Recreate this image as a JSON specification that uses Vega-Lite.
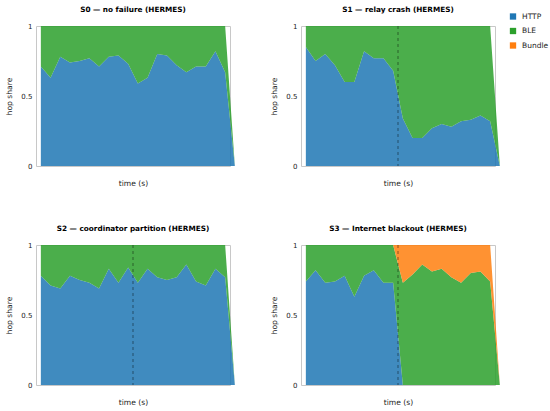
{
  "$schema": "https://vega.github.io/schema/vega-lite/v6.json",
  "background": "white",
  "padding": {"left": 5, "top": 5, "right": 0, "bottom": 5},
  "bounds": "flush",
  "columns": 2,
  "spacing": {"row": 79, "column": 71},
  "config": {
    "font": "DejaVu Sans",
    "view": {"stroke": "#c8c8c8"},
    "axis": {
      "grid": false, "ticks": false, "domain": false,
      "labelFontSize": 7, "titleFontSize": 7.6, "titleFontWeight": "normal",
      "labelColor": "#222", "titleColor": "#222"
    },
    "axisX": {"labels": false, "titlePadding": 13},
    "axisY": {"titlePadding": 7, "labelPadding": 4},
    "title": {"fontSize": 7.3, "fontWeight": "bold", "offset": 9, "color": "#000"},
    "legend": {
      "labelFontSize": 7.5, "labelColor": "#222",
      "symbolType": "square", "symbolSize": 40, "rowPadding": 6.5, "labelOffset": 5
    },
    "area": {"opacity": 0.85},
    "rule": {"color": "#000", "opacity": 0.45, "strokeDash": [3, 3], "strokeWidth": 1}
  },
  "datasets": {
    "shares": [
      {"s": "S0", "t": 1.5, "HTTP": 0.71, "BLE": 0.29, "Bundle": 0},
      {"s": "S0", "t": 4.5, "HTTP": 0.63, "BLE": 0.37, "Bundle": 0},
      {"s": "S0", "t": 7.5, "HTTP": 0.78, "BLE": 0.22, "Bundle": 0},
      {"s": "S0", "t": 10.5, "HTTP": 0.74, "BLE": 0.26, "Bundle": 0},
      {"s": "S0", "t": 13.5, "HTTP": 0.75, "BLE": 0.25, "Bundle": 0},
      {"s": "S0", "t": 16.5, "HTTP": 0.77, "BLE": 0.23, "Bundle": 0},
      {"s": "S0", "t": 19.5, "HTTP": 0.71, "BLE": 0.29, "Bundle": 0},
      {"s": "S0", "t": 22.5, "HTTP": 0.78, "BLE": 0.22, "Bundle": 0},
      {"s": "S0", "t": 25.5, "HTTP": 0.79, "BLE": 0.21, "Bundle": 0},
      {"s": "S0", "t": 28.5, "HTTP": 0.73, "BLE": 0.27, "Bundle": 0},
      {"s": "S0", "t": 31.5, "HTTP": 0.59, "BLE": 0.41, "Bundle": 0},
      {"s": "S0", "t": 34.5, "HTTP": 0.63, "BLE": 0.37, "Bundle": 0},
      {"s": "S0", "t": 37.5, "HTTP": 0.80, "BLE": 0.20, "Bundle": 0},
      {"s": "S0", "t": 40.5, "HTTP": 0.79, "BLE": 0.21, "Bundle": 0},
      {"s": "S0", "t": 43.5, "HTTP": 0.72, "BLE": 0.28, "Bundle": 0},
      {"s": "S0", "t": 46.5, "HTTP": 0.67, "BLE": 0.33, "Bundle": 0},
      {"s": "S0", "t": 49.5, "HTTP": 0.71, "BLE": 0.29, "Bundle": 0},
      {"s": "S0", "t": 52.5, "HTTP": 0.71, "BLE": 0.29, "Bundle": 0},
      {"s": "S0", "t": 55.5, "HTTP": 0.82, "BLE": 0.18, "Bundle": 0},
      {"s": "S0", "t": 58.5, "HTTP": 0.67, "BLE": 0.33, "Bundle": 0},
      {"s": "S0", "t": 61.5, "HTTP": 0, "BLE": 0, "Bundle": 0},
      {"s": "S1", "t": 1.5, "HTTP": 0.85, "BLE": 0.15, "Bundle": 0},
      {"s": "S1", "t": 4.5, "HTTP": 0.75, "BLE": 0.25, "Bundle": 0},
      {"s": "S1", "t": 7.5, "HTTP": 0.80, "BLE": 0.20, "Bundle": 0},
      {"s": "S1", "t": 10.5, "HTTP": 0.72, "BLE": 0.28, "Bundle": 0},
      {"s": "S1", "t": 13.5, "HTTP": 0.60, "BLE": 0.40, "Bundle": 0},
      {"s": "S1", "t": 16.5, "HTTP": 0.60, "BLE": 0.40, "Bundle": 0},
      {"s": "S1", "t": 19.5, "HTTP": 0.82, "BLE": 0.18, "Bundle": 0},
      {"s": "S1", "t": 22.5, "HTTP": 0.77, "BLE": 0.23, "Bundle": 0},
      {"s": "S1", "t": 25.5, "HTTP": 0.77, "BLE": 0.23, "Bundle": 0},
      {"s": "S1", "t": 28.5, "HTTP": 0.68, "BLE": 0.32, "Bundle": 0},
      {"s": "S1", "t": 31.5, "HTTP": 0.34, "BLE": 0.66, "Bundle": 0},
      {"s": "S1", "t": 34.5, "HTTP": 0.20, "BLE": 0.80, "Bundle": 0},
      {"s": "S1", "t": 37.5, "HTTP": 0.20, "BLE": 0.80, "Bundle": 0},
      {"s": "S1", "t": 40.5, "HTTP": 0.27, "BLE": 0.73, "Bundle": 0},
      {"s": "S1", "t": 43.5, "HTTP": 0.30, "BLE": 0.70, "Bundle": 0},
      {"s": "S1", "t": 46.5, "HTTP": 0.28, "BLE": 0.72, "Bundle": 0},
      {"s": "S1", "t": 49.5, "HTTP": 0.32, "BLE": 0.68, "Bundle": 0},
      {"s": "S1", "t": 52.5, "HTTP": 0.33, "BLE": 0.67, "Bundle": 0},
      {"s": "S1", "t": 55.5, "HTTP": 0.36, "BLE": 0.64, "Bundle": 0},
      {"s": "S1", "t": 58.5, "HTTP": 0.32, "BLE": 0.68, "Bundle": 0},
      {"s": "S1", "t": 61.5, "HTTP": 0, "BLE": 0, "Bundle": 0},
      {"s": "S2", "t": 1.5, "HTTP": 0.78, "BLE": 0.22, "Bundle": 0},
      {"s": "S2", "t": 4.5, "HTTP": 0.71, "BLE": 0.29, "Bundle": 0},
      {"s": "S2", "t": 7.5, "HTTP": 0.69, "BLE": 0.31, "Bundle": 0},
      {"s": "S2", "t": 10.5, "HTTP": 0.78, "BLE": 0.22, "Bundle": 0},
      {"s": "S2", "t": 13.5, "HTTP": 0.75, "BLE": 0.25, "Bundle": 0},
      {"s": "S2", "t": 16.5, "HTTP": 0.73, "BLE": 0.27, "Bundle": 0},
      {"s": "S2", "t": 19.5, "HTTP": 0.69, "BLE": 0.31, "Bundle": 0},
      {"s": "S2", "t": 22.5, "HTTP": 0.83, "BLE": 0.17, "Bundle": 0},
      {"s": "S2", "t": 25.5, "HTTP": 0.73, "BLE": 0.27, "Bundle": 0},
      {"s": "S2", "t": 28.5, "HTTP": 0.84, "BLE": 0.16, "Bundle": 0},
      {"s": "S2", "t": 31.5, "HTTP": 0.73, "BLE": 0.27, "Bundle": 0},
      {"s": "S2", "t": 34.5, "HTTP": 0.83, "BLE": 0.17, "Bundle": 0},
      {"s": "S2", "t": 37.5, "HTTP": 0.77, "BLE": 0.23, "Bundle": 0},
      {"s": "S2", "t": 40.5, "HTTP": 0.75, "BLE": 0.25, "Bundle": 0},
      {"s": "S2", "t": 43.5, "HTTP": 0.77, "BLE": 0.23, "Bundle": 0},
      {"s": "S2", "t": 46.5, "HTTP": 0.86, "BLE": 0.14, "Bundle": 0},
      {"s": "S2", "t": 49.5, "HTTP": 0.74, "BLE": 0.26, "Bundle": 0},
      {"s": "S2", "t": 52.5, "HTTP": 0.71, "BLE": 0.29, "Bundle": 0},
      {"s": "S2", "t": 55.5, "HTTP": 0.83, "BLE": 0.17, "Bundle": 0},
      {"s": "S2", "t": 58.5, "HTTP": 0.77, "BLE": 0.23, "Bundle": 0},
      {"s": "S2", "t": 61.5, "HTTP": 0, "BLE": 0, "Bundle": 0},
      {"s": "S3", "t": 1.5, "HTTP": 0.74, "BLE": 0.26, "Bundle": 0},
      {"s": "S3", "t": 4.5, "HTTP": 0.82, "BLE": 0.18, "Bundle": 0},
      {"s": "S3", "t": 7.5, "HTTP": 0.73, "BLE": 0.27, "Bundle": 0},
      {"s": "S3", "t": 10.5, "HTTP": 0.74, "BLE": 0.26, "Bundle": 0},
      {"s": "S3", "t": 13.5, "HTTP": 0.78, "BLE": 0.22, "Bundle": 0},
      {"s": "S3", "t": 16.5, "HTTP": 0.63, "BLE": 0.37, "Bundle": 0},
      {"s": "S3", "t": 19.5, "HTTP": 0.78, "BLE": 0.22, "Bundle": 0},
      {"s": "S3", "t": 22.5, "HTTP": 0.82, "BLE": 0.18, "Bundle": 0},
      {"s": "S3", "t": 25.5, "HTTP": 0.73, "BLE": 0.27, "Bundle": 0},
      {"s": "S3", "t": 28.5, "HTTP": 0.73, "BLE": 0.27, "Bundle": 0},
      {"s": "S3", "t": 31.5, "HTTP": 0, "BLE": 0.73, "Bundle": 0.27},
      {"s": "S3", "t": 34.5, "HTTP": 0, "BLE": 0.79, "Bundle": 0.21},
      {"s": "S3", "t": 37.5, "HTTP": 0, "BLE": 0.86, "Bundle": 0.14},
      {"s": "S3", "t": 40.5, "HTTP": 0, "BLE": 0.81, "Bundle": 0.19},
      {"s": "S3", "t": 43.5, "HTTP": 0, "BLE": 0.83, "Bundle": 0.17},
      {"s": "S3", "t": 46.5, "HTTP": 0, "BLE": 0.77, "Bundle": 0.23},
      {"s": "S3", "t": 49.5, "HTTP": 0, "BLE": 0.73, "Bundle": 0.27},
      {"s": "S3", "t": 52.5, "HTTP": 0, "BLE": 0.80, "Bundle": 0.20},
      {"s": "S3", "t": 55.5, "HTTP": 0, "BLE": 0.81, "Bundle": 0.19},
      {"s": "S3", "t": 58.5, "HTTP": 0, "BLE": 0.74, "Bundle": 0.26},
      {"s": "S3", "t": 61.5, "HTTP": 0, "BLE": 0, "Bundle": 0}
    ],
    "events": [
      {"s": "S1", "t": 30},
      {"s": "S2", "t": 30},
      {"s": "S3", "t": 30}
    ]
  },
  "concat": [
    {
      "title": "S0 — no failure (HERMES)",
      "width": 194, "height": 140,
      "data": {"name": "shares"},
      "transform": [
        {"filter": "datum.s === 'S0'"},
        {"fold": ["HTTP", "BLE", "Bundle"], "as": ["proto", "share"]},
        {"calculate": "indexof(['HTTP','BLE','Bundle'], datum.proto)", "as": "ord"}
      ],
      "mark": "area",
      "encoding": {
        "x": {"field": "t", "type": "quantitative", "title": "time (s)", "scale": {"domain": [0, 60], "nice": false, "zero": false}},
        "y": {"field": "share", "type": "quantitative", "stack": "zero", "title": "hop share", "scale": {"domain": [0, 1]}, "axis": {"values": [0, 0.5, 1], "format": "~g"}},
        "color": {"field": "proto", "type": "nominal", "scale": {"domain": ["HTTP", "BLE", "Bundle"], "range": ["#1f77b4", "#2ca02c", "#ff7f0e"]}, "legend": {"title": null, "orient": "none", "legendX": 473, "legendY": -13.5}},
        "order": {"field": "ord", "type": "quantitative"}
      }
    },
    {
      "title": "S1 — relay crash (HERMES)",
      "width": 194, "height": 140,
      "layer": [
        {
          "data": {"name": "shares"},
          "transform": [
            {"filter": "datum.s === 'S1'"},
            {"fold": ["HTTP", "BLE", "Bundle"], "as": ["proto", "share"]},
            {"calculate": "indexof(['HTTP','BLE','Bundle'], datum.proto)", "as": "ord"}
          ],
          "mark": "area",
          "encoding": {
            "x": {"field": "t", "type": "quantitative", "title": "time (s)", "scale": {"domain": [0, 60], "nice": false, "zero": false}},
            "y": {"field": "share", "type": "quantitative", "stack": "zero", "title": "hop share", "scale": {"domain": [0, 1]}, "axis": {"values": [0, 0.5, 1], "format": "~g"}},
            "color": {"field": "proto", "type": "nominal", "scale": {"domain": ["HTTP", "BLE", "Bundle"], "range": ["#1f77b4", "#2ca02c", "#ff7f0e"]}, "legend": {"title": null, "orient": "none", "legendX": 473, "legendY": -13.5}},
            "order": {"field": "ord", "type": "quantitative"}
          }
        },
        {
          "data": {"name": "events"},
          "transform": [{"filter": "datum.s === 'S1'"}],
          "mark": "rule",
          "encoding": {"x": {"field": "t", "type": "quantitative"}}
        }
      ]
    },
    {
      "title": "S2 — coordinator partition (HERMES)",
      "width": 194, "height": 140,
      "layer": [
        {
          "data": {"name": "shares"},
          "transform": [
            {"filter": "datum.s === 'S2'"},
            {"fold": ["HTTP", "BLE", "Bundle"], "as": ["proto", "share"]},
            {"calculate": "indexof(['HTTP','BLE','Bundle'], datum.proto)", "as": "ord"}
          ],
          "mark": "area",
          "encoding": {
            "x": {"field": "t", "type": "quantitative", "title": "time (s)", "scale": {"domain": [0, 60], "nice": false, "zero": false}},
            "y": {"field": "share", "type": "quantitative", "stack": "zero", "title": "hop share", "scale": {"domain": [0, 1]}, "axis": {"values": [0, 0.5, 1], "format": "~g"}},
            "color": {"field": "proto", "type": "nominal", "scale": {"domain": ["HTTP", "BLE", "Bundle"], "range": ["#1f77b4", "#2ca02c", "#ff7f0e"]}, "legend": {"title": null, "orient": "none", "legendX": 473, "legendY": -13.5}},
            "order": {"field": "ord", "type": "quantitative"}
          }
        },
        {
          "data": {"name": "events"},
          "transform": [{"filter": "datum.s === 'S2'"}],
          "mark": "rule",
          "encoding": {"x": {"field": "t", "type": "quantitative"}}
        }
      ]
    },
    {
      "title": "S3 — Internet blackout (HERMES)",
      "width": 194, "height": 140,
      "layer": [
        {
          "data": {"name": "shares"},
          "transform": [
            {"filter": "datum.s === 'S3'"},
            {"fold": ["HTTP", "BLE", "Bundle"], "as": ["proto", "share"]},
            {"calculate": "indexof(['HTTP','BLE','Bundle'], datum.proto)", "as": "ord"}
          ],
          "mark": "area",
          "encoding": {
            "x": {"field": "t", "type": "quantitative", "title": "time (s)", "scale": {"domain": [0, 60], "nice": false, "zero": false}},
            "y": {"field": "share", "type": "quantitative", "stack": "zero", "title": "hop share", "scale": {"domain": [0, 1]}, "axis": {"values": [0, 0.5, 1], "format": "~g"}},
            "color": {"field": "proto", "type": "nominal", "scale": {"domain": ["HTTP", "BLE", "Bundle"], "range": ["#1f77b4", "#2ca02c", "#ff7f0e"]}, "legend": {"title": null, "orient": "none", "legendX": 473, "legendY": -13.5}},
            "order": {"field": "ord", "type": "quantitative"}
          }
        },
        {
          "data": {"name": "events"},
          "transform": [{"filter": "datum.s === 'S3'"}],
          "mark": "rule",
          "encoding": {"x": {"field": "t", "type": "quantitative"}}
        }
      ]
    }
  ]
}
